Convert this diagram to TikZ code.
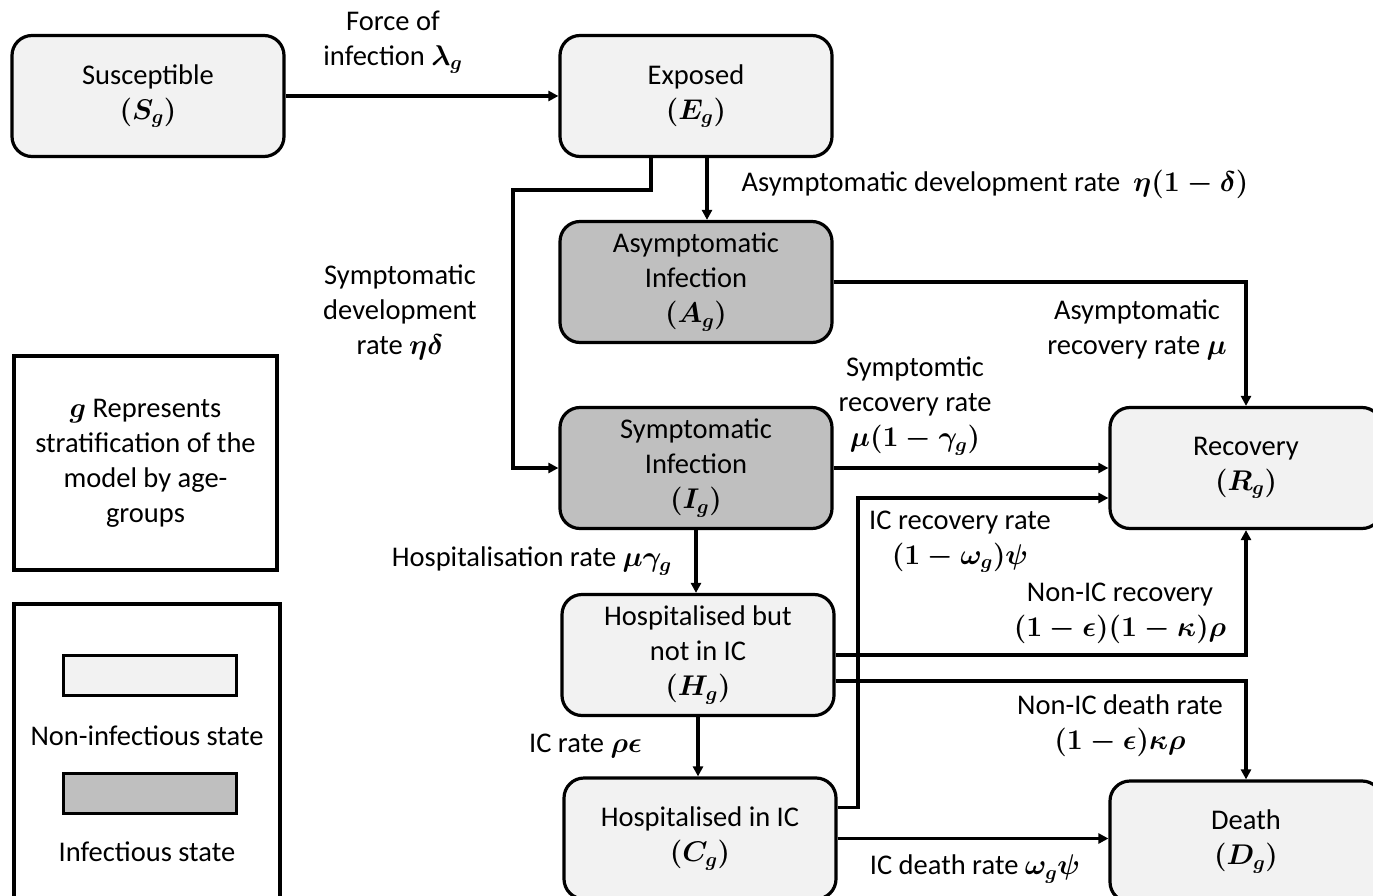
\RequirePackage{fix-cm}
\documentclass[tikz,border=0pt]{standalone}
\usepackage{fontspec}
\setmainfont{Carlito}
\usetikzlibrary{arrows.meta}
\definecolor{lightfill}{HTML}{F2F2F2}
\definecolor{darkfill}{HTML}{BFBFBF}
\begin{document}
\begin{tikzpicture}[x=1pt,y=-1pt,
  every node/.style={font=\fontsize{28.5}{35}\selectfont\boldmath, align=center, inner sep=0pt},
  state/.style={draw, line width=3.2pt, rounded corners=20pt, minimum width=272pt, minimum height=121pt, fill=lightfill},
  inf/.style={state, fill=darkfill},
  legendbox/.style={draw, line width=3.2pt, fill=white},
  arr/.style={line width=3.2pt, -{Triangle[length=10pt,width=10pt]}}]
\useasboundingbox (0,0) rectangle (1373,896);
% states
\node[state] (S) at (148,96) {Susceptible\\$(S_g)$};
\node[state] (E) at (696,96) {Exposed\\$(E_g)$};
\node[inf]   (A) at (696,282) {Asymptomatic\\Infection\\$(A_g)$};
\node[inf]   (I) at (696,468) {Symptomatic\\Infection\\$(I_g)$};
\node[state] (H) at (698,655) {Hospitalised but\\not in IC\\$(H_g)$};
\node[state] (C) at (700,838.5) {Hospitalised in IC\\$(C_g)$};
\node[state] (R) at (1246,468) {Recovery\\$(R_g)$};
\node[state] (D) at (1246,841.5) {Death\\$(D_g)$};
% legend
\node[legendbox, minimum width=263pt, minimum height=214pt] (G) at (145.5,463) {$g$ Represents\\stratification of the\\model by age-\\groups};
\node[legendbox, minimum width=266pt, minimum height=300pt] (L) at (147,754) {};
\node[draw, line width=3pt, fill=lightfill, minimum width=173pt, minimum height=40pt] (L1) at (149.5,675) {};
\node[draw, line width=3pt, fill=darkfill, minimum width=173pt, minimum height=40pt] (L2) at (149.5,793) {};
\node (L1t) at (147,736) {Non-infectious state};
\node (L2t) at (147,852) {Infectious state};
% connectors
\coordinate (e1) at (513,190);
\coordinate (c1) at (858,498);
\draw[arr] (S) -- (S -| E.west);
\draw[arr] ([xshift=11pt]E.south) -- ([xshift=11pt]E.south |- A.north);
\draw[arr] ([xshift=-45pt]E.south) |- (e1) |- (I.west);
\draw[arr] (A.east) -| (R.north);
\draw[arr] (I.east) -- (I.east -| R.west);
\draw[arr] (I.south) -- (I.south |- H.north);
\draw[arr] (H.south) -- (H.south |- C.north);
\draw[arr] ([yshift=31pt]C.east) -| (c1) -- (c1 -| R.west);
\draw[arr] (H.east) -| (R.south);
\draw[arr] ([yshift=-26pt]H.east) -| (D.north);
\draw[arr] (C.east) -- (C.east -| D.west);
% labels
\node (l1) at (393,42) {Force of\\infection $\lambda_g$};
\node (l2) at (995,184) {Asymptomatic development rate\ \ $\eta(1-\delta)$};
\node (l3) at (400,312) {Symptomatic\\development\\rate $\eta\delta$};
\node (l4) at (1137,330) {Asymptomatic\\recovery rate $\mu$};
\node (l5) at (915,406) {Symptomtic\\recovery rate\\$\mu\bigl(1-\gamma_g\bigr)$};
\node[anchor=east] (l6) at (672,561) {Hospitalisation rate $\mu\gamma_g$};
\node[anchor=east] (l7) at (642,746) {IC rate $\rho\epsilon$};
\node (l8) at (960,542) {IC recovery rate\\$(1-\omega_g)\psi$};
\node (l9) at (1120,613) {Non-IC recovery\\$(1-\epsilon)(1-\kappa)\rho$};
\node (l10) at (1120,726) {Non-IC death rate\\$(1-\epsilon)\kappa\rho$};
\node (l11) at (975,869) {IC death rate $\omega_g\psi$};
\end{tikzpicture}
\end{document}
